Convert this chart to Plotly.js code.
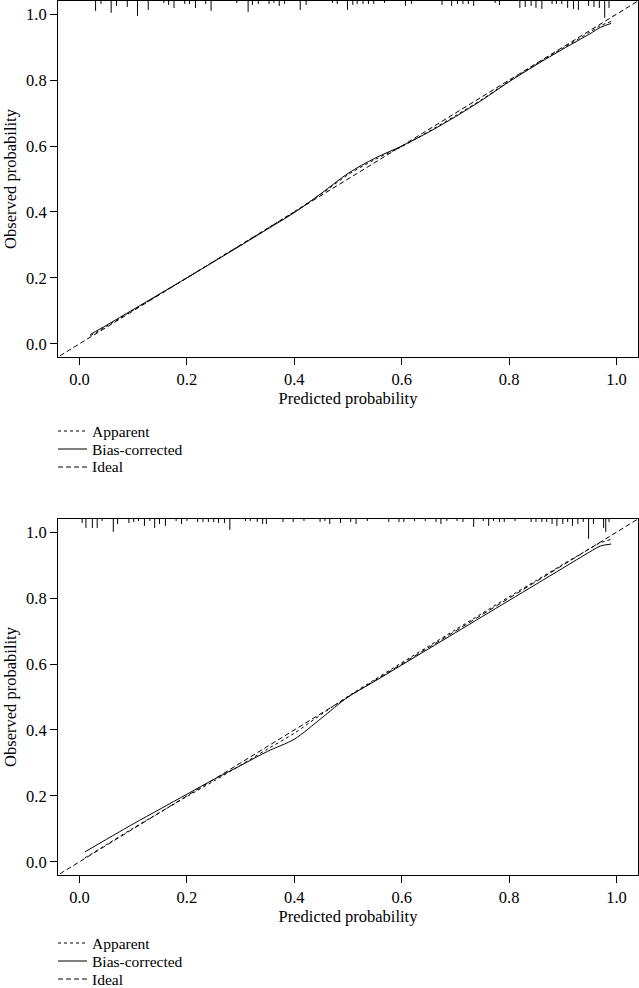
<!DOCTYPE html>
<html>
<head>
<meta charset="utf-8">
<script src="https://cdn.plot.ly/plotly-3.0.1.min.js"></script>
<style>html,body{margin:0;padding:0;background:#fff;}#chart{width:639px;height:988px;}</style>
</head>
<body>
<div id="chart"></div>
<script>
// ---------- data ----------
var tickVals = [0, 0.2, 0.4, 0.6, 0.8, 1.0];
var tickText = ["0.0", "0.2", "0.4", "0.6", "0.8", "1.0"];
var idealX = [-0.1, 1.1];
var idealY = [-0.1, 1.1];

// Panel 1 (top)
var topX        = [0.02, 0.05, 0.10, 0.15, 0.20, 0.25, 0.30, 0.35, 0.40, 0.45, 0.50, 0.55, 0.60, 0.65, 0.70, 0.75, 0.80, 0.85, 0.90, 0.95, 0.97, 0.99];
var topBias     = [0.028, 0.056, 0.104, 0.152, 0.200, 0.249, 0.298, 0.348, 0.398, 0.456, 0.517, 0.563, 0.600, 0.642, 0.689, 0.740, 0.795, 0.846, 0.894, 0.940, 0.960, 0.972];
var topApparent = [0.024, 0.053, 0.102, 0.151, 0.200, 0.250, 0.300, 0.350, 0.401, 0.454, 0.513, 0.559, 0.598, 0.644, 0.692, 0.742, 0.797, 0.848, 0.897, 0.945, 0.965, 0.978];
var topRugX   = [0.030,0.040,0.059,0.069,0.089,0.108,0.128,0.157,0.166,0.176,0.196,0.205,0.216,0.235,0.245,0.293,0.314,0.322,0.333,0.353,0.362,0.372,0.382,0.411,0.422,0.471,0.480,0.499,0.509,0.517,0.528,0.538,0.548,0.568,0.607,0.618,0.675,0.693,0.704,0.714,0.724,0.734,0.774,0.782,0.820,0.830,0.841,0.850,0.861,0.880,0.888,0.898,0.909,0.920,0.929,0.948,0.958,0.968,0.978,0.986];
var topRugLen = [10,3,12,5,6,15,9,2,4,7,3,3,7,3,10,2,11,4,3,3,2,5,3,9,4,2,3,9,4,3,3,3,3,2,5,3,4,5,3,3,3,5,2,4,7,6,5,7,8,3,3,3,7,8,9,5,6,7,17,7];

// Panel 2 (bottom)
var botX        = [0.01, 0.05, 0.10, 0.15, 0.20, 0.25, 0.30, 0.35, 0.40, 0.45, 0.50, 0.55, 0.60, 0.65, 0.70, 0.75, 0.80, 0.85, 0.90, 0.95, 0.97, 0.99];
var botBias     = [0.030, 0.068, 0.115, 0.160, 0.205, 0.250, 0.292, 0.335, 0.372, 0.435, 0.500, 0.548, 0.597, 0.646, 0.695, 0.744, 0.793, 0.842, 0.891, 0.940, 0.958, 0.964];
var botApparent = [0.012, 0.052, 0.102, 0.150, 0.198, 0.245, 0.293, 0.342, 0.390, 0.447, 0.502, 0.553, 0.604, 0.654, 0.704, 0.754, 0.804, 0.853, 0.902, 0.950, 0.968, 0.978];
var botRugX   = [0.005,0.012,0.024,0.033,0.042,0.063,0.071,0.092,0.101,0.110,0.121,0.131,0.140,0.149,0.160,0.180,0.190,0.200,0.220,0.230,0.240,0.250,0.259,0.270,0.280,0.309,0.318,0.331,0.341,0.348,0.379,0.398,0.418,0.448,0.457,0.466,0.486,0.505,0.515,0.536,0.576,0.595,0.604,0.624,0.644,0.664,0.673,0.684,0.703,0.714,0.734,0.752,0.762,0.771,0.782,0.791,0.811,0.841,0.850,0.861,0.870,0.880,0.889,0.900,0.909,0.918,0.928,0.938,0.948,0.957,0.976,0.980,0.986];
var botRugLen = [4,9,9,9,2,13,5,4,3,2,7,2,9,5,7,2,5,2,3,3,3,3,4,4,11,2,2,3,5,5,3,3,2,3,2,5,4,3,5,2,3,3,3,2,2,3,5,2,2,3,8,2,7,2,3,3,2,3,3,3,3,5,7,5,3,7,5,3,20,5,9,13,3];

var legendNames = ["Apparent", "Bias-corrected", "Ideal"];
var legendDash  = ["dot", "solid", "5px,3px"];

// ---------- layout helpers ----------
var W = 639, H = 988;
var M = {l: 58, r: 1, t: 1, b: 113};
var FONT = "Liberation Serif, Times New Roman, serif";
var FS = 16.5;
var LFS = 15.5;
var axRange = [-0.04, 1.04];
var rugUnit = 0.003;
function px2paperY(py) { return (H - M.b - py) / (H - M.t - M.b); }
function px2paperX(pxv) { return (pxv - M.l) / (W - M.l - M.r); }

function rugTrace(xs, lens, xa, ya) {
  var rx = [], ry = [];
  var top = axRange[1];
  for (var i = 0; i < xs.length; i++) {
    rx.push(xs[i], xs[i], null);
    ry.push(top, top - lens[i] * rugUnit, null);
  }
  return {x: rx, y: ry, xaxis: xa, yaxis: ya, mode: "lines", showlegend: false,
          hoverinfo: "skip", line: {color: "#000", width: 1}};
}
function lineTrace(x, y, xa, ya, dash, name) {
  return {x: x, y: y, xaxis: xa, yaxis: ya, mode: "lines", name: name, showlegend: false,
          line: {color: "#000", width: 1, dash: dash, shape: "spline", smoothing: 0.8}};
}

var traces = [
  lineTrace(idealX, idealY, "x", "y", legendDash[2], "Ideal"),
  lineTrace(topX, topApparent, "x", "y", legendDash[0], "Apparent"),
  lineTrace(topX, topBias, "x", "y", legendDash[1], "Bias-corrected"),
  rugTrace(topRugX, topRugLen, "x", "y"),
  lineTrace(idealX, idealY, "x2", "y2", legendDash[2], "Ideal"),
  lineTrace(botX, botApparent, "x2", "y2", legendDash[0], "Apparent"),
  lineTrace(botX, botBias, "x2", "y2", legendDash[1], "Bias-corrected"),
  rugTrace(botRugX, botRugLen, "x2", "y2")
];

function xAxis(anchor) {
  return {anchor: anchor, range: axRange, tickvals: tickVals, ticktext: tickText,
    ticks: "outside", ticklen: 7, tickwidth: 1, tickcolor: "#000",
    showline: true, mirror: true, linecolor: "#000", linewidth: 1,
    showgrid: false, zeroline: false, automargin: false,
    tickfont: {family: FONT, size: FS, color: "#000"},
    title: {text: "Predicted probability", standoff: 2, font: {family: FONT, size: FS, color: "#000"}}};
}
function yAxis(anchor, domain) {
  return {anchor: anchor, domain: domain, range: axRange, tickvals: tickVals, ticktext: tickText,
    ticks: "outside", ticklen: 7, tickwidth: 1, tickcolor: "#000",
    showline: true, mirror: true, linecolor: "#000", linewidth: 1,
    showgrid: false, zeroline: false, automargin: false,
    tickfont: {family: FONT, size: FS, color: "#000"},
    title: {text: "Observed probability", standoff: 5, font: {family: FONT, size: FS, color: "#000"}}};
}

// manual legends (below each panel)
var legendRowsPx = [[431, 449, 467], [943, 961, 979]];
var shapes = [], annotations = [];
legendRowsPx.forEach(function (rows) {
  rows.forEach(function (py, k) {
    var yy = px2paperY(py);
    shapes.push({type: "line", xref: "paper", yref: "paper", x0: px2paperX(58), x1: px2paperX(87),
      y0: yy, y1: yy, line: {color: "#000", width: 1, dash: legendDash[k]}});
    annotations.push({xref: "paper", yref: "paper", x: px2paperX(91), y: yy, xanchor: "left", yanchor: "middle",
      borderpad: 0, valign: "middle",
      text: legendNames[k], showarrow: false, font: {family: FONT, size: LFS, color: "#000"}});
  });
});

var layout = {
  width: W, height: H, margin: M,
  paper_bgcolor: "#fff", plot_bgcolor: "#fff",
  showlegend: false,
  xaxis: xAxis("y"),
  yaxis: yAxis("x", [px2paperY(357), px2paperY(1)]),
  xaxis2: xAxis("y2"),
  yaxis2: yAxis("x2", [px2paperY(875), px2paperY(519)]),
  shapes: shapes,
  annotations: annotations,
  font: {family: FONT, size: FS, color: "#000"}
};

Plotly.newPlot("chart", traces, layout, {staticPlot: true, displayModeBar: false});
</script>
</body>
</html>
